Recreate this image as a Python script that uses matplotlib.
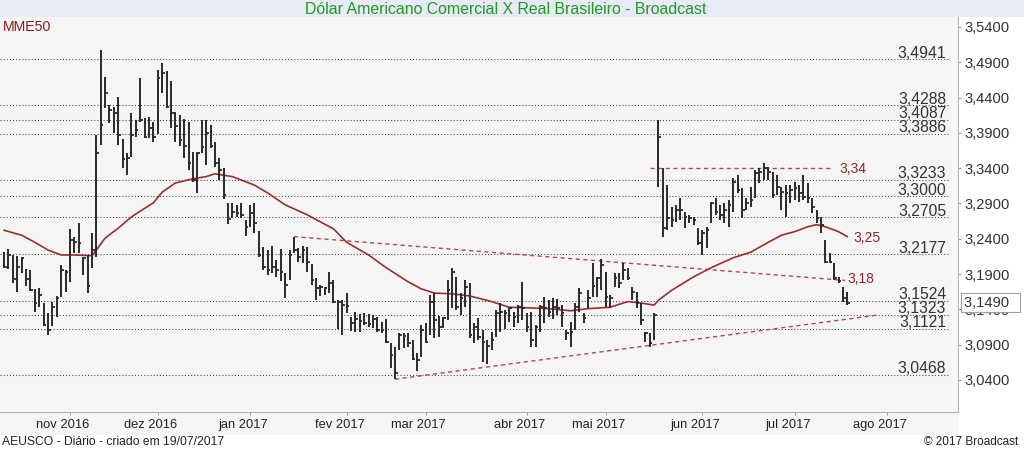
import numpy as np
import pandas as pd
import matplotlib
matplotlib.use('Agg')
import matplotlib.pyplot as plt
import matplotlib.transforms as mtransforms
from matplotlib.patches import Rectangle

plt.rcParams['font.family'] = ['Liberation Sans', 'DejaVu Sans']

# trading calendar (days without FX trading removed)
start_date = '2016-10-10'
end_date = '2017-07-19'
holidays = ['2016-10-12', '2016-11-02', '2016-11-15', '2016-12-30', '2017-02-27',
            '2017-02-28', '2017-04-14', '2017-04-21', '2017-05-01', '2017-06-15']

# daily bars (high / low / close)
highs = [
    3.221, 3.225, 3.217, 3.216, 3.214, 3.197, 3.196, 3.169, 3.170, 3.149,
    3.135, 3.150, 3.159, 3.203, 3.196, 3.254, 3.243, 3.262, 3.214, 3.217,
    3.248, 3.387, 3.507, 3.469, 3.430, 3.427, 3.441, 3.381, 3.361, 3.418,
    3.408, 3.468, 3.411, 3.413, 3.405, 3.479, 3.489, 3.478, 3.463, 3.420,
    3.415, 3.410, 3.405, 3.363, 3.363, 3.408, 3.408, 3.401, 3.377, 3.354,
    3.340, 3.291, 3.291, 3.288, 3.291, 3.267, 3.288, 3.291, 3.251, 3.228,
    3.224, 3.230, 3.210, 3.226, 3.192, 3.224, 3.243, 3.227, 3.230, 3.228,
    3.204, 3.184, 3.174, 3.172, 3.193, 3.182, 3.153, 3.153, 3.163, 3.129,
    3.136, 3.134, 3.135, 3.134, 3.132, 3.129, 3.122, 3.126, 3.092, 3.087,
    3.107, 3.107, 3.107, 3.097, 3.078, 3.118, 3.121, 3.160, 3.163, 3.131,
    3.129, 3.182, 3.199, 3.186, 3.163, 3.182, 3.177, 3.121, 3.128, 3.111,
    3.097, 3.108, 3.139, 3.149, 3.139, 3.143, 3.136, 3.146, 3.179, 3.135,
    3.136, 3.118, 3.146, 3.158, 3.153, 3.156, 3.155, 3.146, 3.111, 3.122,
    3.149, 3.170, 3.135, 3.167, 3.206, 3.186, 3.211, 3.193, 3.160, 3.192,
    3.192, 3.206, 3.199, 3.172, 3.165, 3.149, 3.108, 3.107, 3.135, 3.408,
    3.340, 3.316, 3.285, 3.288, 3.298, 3.278, 3.274, 3.271, 3.255, 3.252,
    3.257, 3.292, 3.298, 3.288, 3.291, 3.295, 3.326, 3.330, 3.312, 3.298,
    3.313, 3.337, 3.340, 3.347, 3.342, 3.335, 3.330, 3.313, 3.316, 3.316,
    3.320, 3.316, 3.330, 3.319, 3.298, 3.281, 3.271, 3.238, 3.220, 3.206,
    3.186, 3.172, 3.165]
lows = [
    3.199, 3.197, 3.178, 3.165, 3.192, 3.173, 3.166, 3.136, 3.143, 3.116,
    3.104, 3.116, 3.129, 3.158, 3.165, 3.179, 3.220, 3.220, 3.189, 3.163,
    3.199, 3.214, 3.373, 3.425, 3.404, 3.390, 3.373, 3.340, 3.330, 3.356,
    3.384, 3.405, 3.383, 3.383, 3.377, 3.388, 3.446, 3.425, 3.397, 3.377,
    3.371, 3.354, 3.337, 3.320, 3.305, 3.361, 3.345, 3.369, 3.342, 3.323,
    3.296, 3.261, 3.269, 3.271, 3.269, 3.244, 3.257, 3.248, 3.214, 3.196,
    3.189, 3.192, 3.186, 3.180, 3.156, 3.182, 3.220, 3.207, 3.206, 3.193,
    3.175, 3.153, 3.159, 3.160, 3.163, 3.149, 3.112, 3.104, 3.135, 3.109,
    3.108, 3.108, 3.118, 3.115, 3.114, 3.108, 3.107, 3.092, 3.057, 3.041,
    3.083, 3.085, 3.087, 3.068, 3.053, 3.073, 3.092, 3.104, 3.100, 3.101,
    3.114, 3.125, 3.142, 3.139, 3.132, 3.143, 3.100, 3.092, 3.097, 3.066,
    3.063, 3.083, 3.101, 3.108, 3.112, 3.122, 3.115, 3.121, 3.125, 3.108,
    3.087, 3.087, 3.108, 3.121, 3.129, 3.126, 3.132, 3.115, 3.097, 3.087,
    3.111, 3.136, 3.121, 3.142, 3.158, 3.158, 3.167, 3.143, 3.142, 3.172,
    3.170, 3.182, 3.182, 3.153, 3.142, 3.118, 3.094, 3.087, 3.097, 3.313,
    3.243, 3.252, 3.257, 3.264, 3.267, 3.255, 3.262, 3.260, 3.231, 3.217,
    3.227, 3.262, 3.274, 3.267, 3.262, 3.257, 3.278, 3.305, 3.269, 3.281,
    3.285, 3.298, 3.319, 3.323, 3.323, 3.298, 3.302, 3.281, 3.271, 3.291,
    3.295, 3.292, 3.295, 3.291, 3.277, 3.262, 3.248, 3.206, 3.206, 3.182,
    3.178, 3.150, 3.146]
closes = [
    3.200, 3.217, 3.183, 3.200, 3.213, 3.183, 3.167, 3.149, 3.160, 3.118,
    3.111, 3.143, 3.156, 3.196, 3.193, 3.238, 3.236, 3.234, 3.213, 3.173,
    3.224, 3.361, 3.401, 3.446, 3.422, 3.418, 3.387, 3.353, 3.354, 3.387,
    3.394, 3.408, 3.384, 3.397, 3.384, 3.468, 3.475, 3.427, 3.418, 3.400,
    3.380, 3.371, 3.347, 3.323, 3.361, 3.370, 3.390, 3.371, 3.347, 3.337,
    3.302, 3.268, 3.278, 3.277, 3.274, 3.257, 3.277, 3.262, 3.217, 3.200,
    3.196, 3.200, 3.196, 3.193, 3.175, 3.217, 3.224, 3.214, 3.224, 3.207,
    3.182, 3.170, 3.172, 3.170, 3.177, 3.150, 3.150, 3.146, 3.145, 3.121,
    3.126, 3.124, 3.121, 3.119, 3.126, 3.111, 3.111, 3.094, 3.075, 3.050,
    3.104, 3.102, 3.092, 3.070, 3.068, 3.111, 3.094, 3.150, 3.125, 3.115,
    3.128, 3.167, 3.193, 3.143, 3.156, 3.172, 3.104, 3.115, 3.101, 3.094,
    3.088, 3.097, 3.135, 3.136, 3.135, 3.142, 3.129, 3.143, 3.142, 3.115,
    3.097, 3.115, 3.143, 3.142, 3.136, 3.143, 3.142, 3.135, 3.107, 3.108,
    3.143, 3.163, 3.128, 3.156, 3.173, 3.184, 3.203, 3.158, 3.156, 3.184,
    3.177, 3.196, 3.184, 3.165, 3.149, 3.125, 3.107, 3.092, 3.132, 3.384,
    3.255, 3.269, 3.267, 3.281, 3.281, 3.271, 3.269, 3.267, 3.234, 3.248,
    3.252, 3.291, 3.278, 3.274, 3.281, 3.288, 3.320, 3.309, 3.281, 3.291,
    3.295, 3.333, 3.335, 3.340, 3.335, 3.302, 3.313, 3.306, 3.305, 3.309,
    3.312, 3.305, 3.299, 3.298, 3.285, 3.269, 3.260, 3.207, 3.207, 3.184,
    3.180, 3.156, 3.149]

# MME50 line, sampled off the chart (bar index, value)
ma_idx = [0, 4, 7, 10, 13, 16, 20, 21, 23, 26, 29, 34, 36, 39, 43, 46, 48, 52, 57, 60,
          64, 69, 75, 78, 83, 87, 92, 95, 98, 102, 106, 111, 115, 120, 124, 129, 133, 138, 142, 145,
          148, 149, 152, 157, 161, 166, 170, 174, 177, 180, 183, 185, 187, 190, 192]
ma_val = [3.252, 3.245, 3.235, 3.224, 3.217, 3.217, 3.216, 3.224, 3.241, 3.255,
          3.271, 3.291, 3.306, 3.319, 3.325, 3.328, 3.332, 3.328, 3.316, 3.305,
          3.288, 3.274, 3.254, 3.235, 3.217, 3.199, 3.179, 3.169, 3.163, 3.162,
          3.159, 3.151, 3.143, 3.142, 3.141, 3.138, 3.141, 3.143, 3.151, 3.149,
          3.146, 3.153, 3.167, 3.186, 3.199, 3.213, 3.221, 3.235, 3.245, 3.250,
          3.257, 3.260, 3.257, 3.250, 3.243]

# horizontal support / resistance levels
levels = [3.4941, 3.4288, 3.4087, 3.3886, 3.3233, 3.3000, 3.2705, 3.2177,
          3.1524, 3.1323, 3.1121, 3.0468]

# trend lines (bar index, value)
upper_trend_x = [66, 191.5]
upper_trend_y = [3.243, 3.181]
lower_trend_x = [89, 199]
lower_trend_y = [3.041, 3.132]
resist_x = [147, 188.7]
resist_y = [3.34, 3.34]

month_names = ['nov', 'dez', 'jan', 'fev', 'mar', 'abr', 'mai', 'jun', 'jul', 'ago']
last_price = 3.1490

title = 'Dólar Americano Comercial X Real Brasileiro - Broadcast'
footer_left = 'AEUSCO - Diário - criado em 19/07/2017'
footer_right = '© 2017 Broadcast'


def br(v, nd=4):
    return f'{v:.{nd}f}'.replace('.', ',')


cal = pd.bdate_range(start_date, '2017-08-31', freq='C', holidays=holidays)
n = len(highs)
x = np.arange(n)
month_starts = pd.date_range('2016-11-01', '2017-08-01', freq='MS')
month_pos = [cal.searchsorted(m) for m in month_starts]
month_labels = [f'{nm} {m.year}' for nm, m in zip(month_names, month_starts)]

fig = plt.figure(figsize=(10.24, 4.51), dpi=100, facecolor='white')
W, H = 1024, 451

# title band and month-label band (behind the axes)
fig.patches.append(Rectangle((0, 1 - 17 / H), 1, 17 / H, transform=fig.transFigure,
                             facecolor='#e8eaf8', edgecolor='none', zorder=-5))
fig.patches.append(Rectangle((0, 16 / H), 958 / W, 23 / H, transform=fig.transFigure,
                             facecolor='#f5f5f5', edgecolor='none', zorder=-5))

ax = fig.add_axes([0, 39 / H, 958 / W, 395 / H])
ax.set_facecolor('#f5f5f5')

# levels
for lv in levels:
    ax.axhline(lv, xmin=0, xmax=950 / 958, color='#444444', lw=0.75,
               linestyle=(0, (1, 2)), zorder=1)
    ax.annotate(br(lv), xy=(214.5, lv), xytext=(0, 1.2), textcoords='offset points',
                ha='right', va='baseline', fontsize=11.3, color='#333333')

# trend lines
dash = (0, (3, 2.5))
ax.plot(upper_trend_x, upper_trend_y, color='#b04a4a', lw=1, linestyle=dash, zorder=2)
ax.plot(lower_trend_x, lower_trend_y, color='#b04a4a', lw=1, linestyle=dash, zorder=2)
ax.plot(resist_x, resist_y, color='#b04a4a', lw=1, linestyle=dash, zorder=2)

# moving average
ax.plot(ma_idx, ma_val, color='#9a2e2e', lw=1.2, zorder=3)

# HLC bars
ax.vlines(x, lows, highs, color='#2a2a2a', lw=1.4, zorder=4)
ax.hlines(closes, x, x + 0.6, color='#2a2a2a', lw=1.3, zorder=4)

lab_col = '#8b2525'
ax.text(190.1, 3.339, '3,34', ha='left', va='center', fontsize=10, color=lab_col)
ax.text(193.3, 3.241, '3,25', ha='left', va='center', fontsize=10, color=lab_col)
ax.text(192.1, 3.183, '3,18', ha='left', va='center', fontsize=10, color=lab_col)

ax.text(0.003, 0.993, 'MME50', transform=ax.transAxes, ha='left', va='top',
        fontsize=10.2, color='#8b1a1a')

# axes
ax.set_xlim(-0.93, 217.2)
ax.set_ylim(2.9946, 3.5541)
for s in ['top', 'left']:
    ax.spines[s].set_visible(False)
for s in ['bottom', 'right']:
    ax.spines[s].set_color('#b5b5b5')
    ax.spines[s].set_linewidth(0.8)

ax.yaxis.tick_right()
yt = np.round(np.arange(3.04, 3.5401, 0.05), 4)
ax.set_yticks(yt)
ax.set_yticklabels([br(v) for v in yt])
ax.tick_params(axis='y', length=2.5, color='#999999', labelsize=10.6,
               labelcolor='#333333', pad=2)

# month ticks, labels sit a little left of their tick
ax.set_xticks(month_pos)
ax.set_xticklabels([])
ax.tick_params(axis='x', length=2, color='#999999')
xblend = mtransforms.blended_transform_factory(ax.transData, ax.transAxes)
for pos, lab in zip(month_pos, month_labels):
    ax.annotate(lab, xy=(pos, 0), xycoords=xblend, xytext=(-5, -5),
                textcoords='offset points', ha='center', va='top',
                fontsize=9.3, color='#222222', annotation_clip=False)

# current price box
blend = mtransforms.blended_transform_factory(ax.transAxes, ax.transData)
ax.text(1.006, last_price + 0.0007, br(last_price) + '  ', transform=blend,
        ha='left', va='center', fontsize=10.6, color='#333333', zorder=10,
        bbox=dict(boxstyle='square,pad=0.2', facecolor='white', edgecolor='#a0a0a0', lw=0.8),
        clip_on=False)

fig.text(506 / W, 1 - 9 / H, title, ha='center', va='center', fontsize=11.4, color='#1f9a1f')
fig.text(2 / W, 1 - 442 / H, footer_left, ha='left', va='center', fontsize=8.7, color='#222222')
fig.text(1018 / W, 1 - 442 / H, footer_right, ha='right', va='center', fontsize=8.5,
         color='#222222')

fig.savefig('out.png', dpi=100)
